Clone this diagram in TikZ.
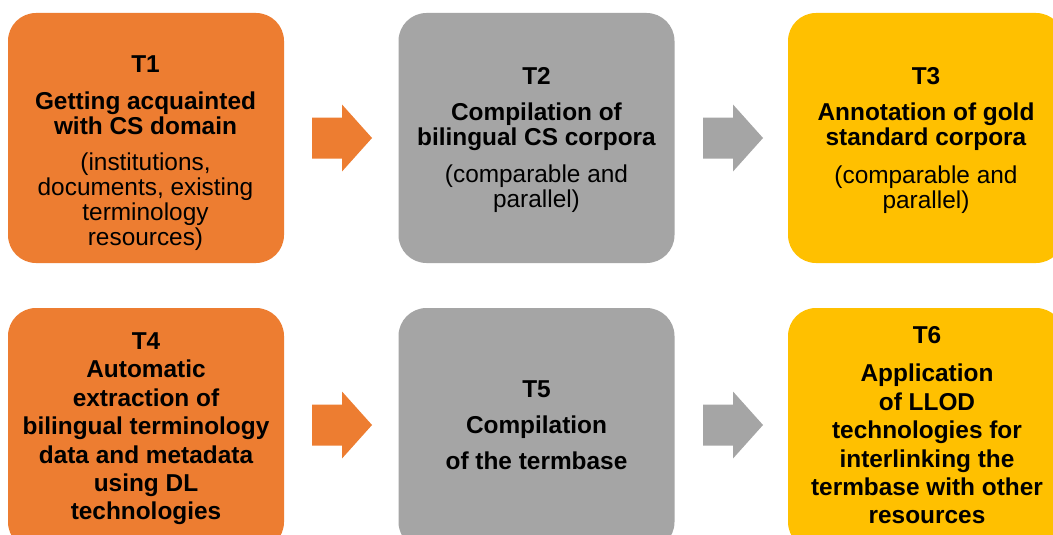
\documentclass[tikz,border=0pt]{standalone}
\usepackage{fontspec}
\setmainfont{Liberation Sans}
\definecolor{orangeT}{HTML}{ED7D31}
\definecolor{grayT}{HTML}{A5A5A5}
\definecolor{yellowT}{HTML}{FFC000}
\tikzset{
  taskbox/.style={rounded corners=21pt, minimum width=207pt, inner sep=0pt, draw=none},
  toprow/.style={minimum height=187.5pt},
  botrow/.style={minimum height=181.5pt},
  txt/.style={anchor=north, inner sep=0pt, align=center, text=black,
              font=\fontsize{18.3pt}{18.9pt}\selectfont},
  blockarrow/.pic={\fill (0,-20.5) -- (30,-20.5) -- (30,-33.5) -- (60,0) -- (30,33.5) -- (30,20.5) -- (0,20.5) -- cycle;}
}
\begin{document}
\begin{tikzpicture}[x=0.75pt, y=-0.75pt]
\useasboundingbox (0,0) rectangle (1053,535);
\clip (0,0) rectangle (1053,535);
\fill[white] (0,0) rectangle (1053,535);
% boxes
\node[taskbox, toprow, fill=orangeT] (b1) at (146,138) {};
\node[taskbox, toprow, fill=grayT]   (b2) at (536.5,138) {};
\node[taskbox, toprow, fill=yellowT] (b3) at (926,138) {};
\node[taskbox, botrow, fill=orangeT] (b4) at (146,429) {};
\node[taskbox, botrow, fill=grayT]   (b5) at (536.5,429) {};
\node[taskbox, botrow, fill=yellowT] (b6) at (926,429) {};
% arrows
\pic[color=orangeT] (a12) at (312,138) {blockarrow};
\pic[color=grayT]   (a23) at (703,138) {blockarrow};
\pic[color=orangeT] (a45) at (312,425) {blockarrow};
\pic[color=grayT]   (a56) at (703,425) {blockarrow};
% texts
\node[txt] (t1) at (145.5,55.5) {\textbf{T1}\\[8.6pt]\textbf{Getting acquainted}\\\textbf{with CS domain}\\[7.8pt](institutions,\\documents, existing\\terminology\\resources)};
\node[txt] (t2) at (536.5,67) {\textbf{T2}\\[8pt]\textbf{Compilation of}\\\textbf{bilingual CS corpora}\\[9pt](comparable and\\parallel)};
\node[txt] (t3) at (926,67.5) {\textbf{T3}\\[8pt]\textbf{Annotation of gold}\\\textbf{standard corpora}\\[9pt](comparable and\\parallel)};
\node[txt, font=\bfseries\fontsize{18.3pt}{21.3pt}\selectfont] (t4) at (146,332.5) {T4\\Automatic\\extraction of\\bilingual terminology\\data and metadata\\using DL\\technologies};
\node[txt, font=\bfseries\fontsize{18.3pt}{27pt}\selectfont] (t5) at (536.5,380.5) {T5\\Compilation\\of the termbase};
\node[txt, font=\bfseries\fontsize{18.3pt}{21.3pt}\selectfont] (t6) at (927,326.5) {T6\\[7.3pt]Application\\of LLOD\\technologies for\\interlinking the\\termbase with other\\resources};
\end{tikzpicture}
\end{document}
